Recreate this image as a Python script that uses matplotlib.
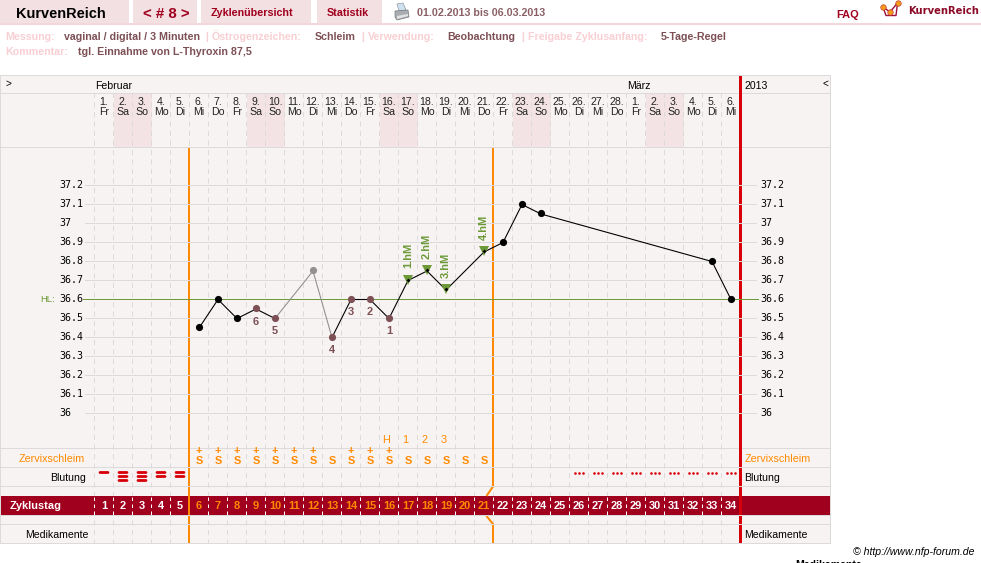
import numpy as np
import matplotlib
matplotlib.use("Agg")
import matplotlib.pyplot as plt
from matplotlib.patches import Rectangle, Polygon
from matplotlib.transforms import Affine2D

plt.rcParams["font.family"] = ["Liberation Sans", "DejaVu Sans"]
plt.rcParams["lines.scale_dashes"] = False
plt.rcParams["path.snap"] = False

# ---- cycle data ----
month_days = [1, 2, 3, 4, 5, 6, 7, 8, 9, 10, 11, 12, 13, 14, 15, 16, 17, 18, 19, 20, 21, 22, 23, 24,
              25, 26, 27, 28, 1, 2, 3, 4, 5, 6]
weekdays = ["Fr", "Sa", "So", "Mo", "Di", "Mi", "Do"] * 4 + ["Fr", "Sa", "So", "Mo", "Di", "Mi"]
temp_days = [6, 7, 8, 9, 10, 12, 13, 14, 15, 16, 17, 18, 19, 21, 22, 23, 24, 33, 34]
temps = [36.45, 36.6, 36.5, 36.55, 36.5, 36.75, 36.4, 36.6, 36.6, 36.5, 36.7, 36.75, 36.65,
         36.85, 36.9, 37.1, 37.05, 36.8, 36.6]
excluded_days = [12]
low_days = [9, 10, 13, 14, 15, 16]
low_labels = ["6", "5", "4", "3", "2", "1"]
high_days = [17, 18, 19, 21]
high_labels = ["1.hM", "2.hM", "3.hM", "4.hM"]
temp_ticks = [36.0, 36.1, 36.2, 36.3, 36.4, 36.5, 36.6, 36.7, 36.8, 36.9, 37.0, 37.1, 37.2]
temp_tick_labels = ["36", "36.1", "36.2", "36.3", "36.4", "36.5", "36.6", "36.7", "36.8",
                    "36.9", "37", "37.1", "37.2"]
cover_line = 36.6
mucus_plus_days = [6, 7, 8, 9, 10, 11, 12, 14, 15, 16]
mucus_plain_days = [13, 17, 18, 19, 20, 21]
peak_days = [16, 17, 18, 19]
peak_labels = ["H", "1", "2", "3"]
bleeding_days = [1, 2, 3, 4, 5]
bleeding_strength = [1, 3, 3, 2, 2]
spotting_days = [26, 27, 28, 29, 30, 31, 32, 33, 34]
infertile_end_day = 5
fertile_end_day = 21
n_days = 34

# ---- colours ----
PANEL = "#f8f3f3"
WEEKEND = "#f3e3e5"
RULE = "#dcdada"
TAB = "#f3e0e2"
DARK = "#a0001e"
BROWN = "#7d5055"
PALE = "#f8cfd2"
ORANGE = "#ff8a00"
RED = "#d80008"
GREEN = "#6c9a38"
GREY = "#929090"

W, H = 981, 563
fig = plt.figure(figsize=(W / 100, H / 100), dpi=100, facecolor="white")

# layout layer, addressed in pixels from the top-left corner
ax = fig.add_axes([0, 0, 1, 1], zorder=1)
ax.set_xlim(0, W)
ax.set_ylim(H, 0)
ax.axis("off")

def px(n):
    return n * 0.72

def day_left(d):
    return 94.5 + 19 * (d - 1)

def day_mid(d):
    return 94.5 + 19 * (d - 0.5)

def label(x, y, s, size=10.5, color="black", weight="normal", ha="left", **kw):
    # y is the visual centre of capital letters, so mixed lines share one baseline
    return ax.text(x, y + 0.36 * size, s, fontsize=px(size), color=color, fontweight=weight,
                   ha=ha, va="baseline", **kw)

# page header
for x0, x1 in [(0, 129), (133, 197), (201, 311), (317, 382)]:
    ax.add_patch(Rectangle((x0, 0), x1 - x0, 23, fc=TAB, ec="none", zorder=1))
ax.add_patch(Rectangle((0, 23), W, 2, fc="#f3d8db", ec="none", zorder=1))
label(16, 13, "KurvenReich", 14.5, "black", "bold")
label(143, 12.5, "< # 8 >", 15, DARK, "bold")
label(211, 12.5, "Zyklenübersicht", 10.7, DARK, "bold")
label(327, 12.5, "Statistik", 10.7, DARK, "bold")
label(417, 12.5, "01.02.2013 bis 06.03.2013", 10.6, "#8a6066", "bold")
label(836, 14.5, "FAQ", 11, DARK, "bold")
ax.text(908, 14, "KurvenReich", fontsize=px(10), fontweight="bold", color="#8c0a28",
        family="DejaVu Sans", ha="left", va="baseline")

# printer icon
ax.add_patch(Polygon([(397, 4), (403, 3), (406, 10), (399, 11)], fc="#cfe0ee", ec="#8f9aa5", lw=0.5, zorder=3))
ax.add_patch(Polygon([(395, 11), (408, 10), (409, 17), (397, 20), (395, 17)], fc="#a9adb2", ec="#777b80", lw=0.5, zorder=3))
ax.add_patch(Polygon([(397, 16), (408, 14), (408, 16), (397, 19)], fc="#e2e4e6", ec="none", zorder=4))

# logo: small curve with three dots
ax.plot([883, 886, 896, 897.5], [7, 15.5, 15.5, 3], color="#a0103c", lw=px(1.4), zorder=3)
ax.plot([883, 890, 897.5], [7, 12, 3], color="#a0103c", lw=px(1.4), zorder=3)
ax.plot([883, 890, 897.5], [7, 12, 3], ls="none", marker="o", ms=px(5.5), mfc="#f59a1c", mec="#c2402a", mew=0.5, zorder=4)

# settings lines
row1 = [(5, "Messung:", PALE), (64, "vaginal / digital / 3 Minuten", BROWN), (205, "|", PALE),
        (212, "Östrogenzeichen:", PALE), (315, "Schleim", BROWN), (361, "|", PALE),
        (368, "Verwendung:", PALE), (447, "Beobachtung", BROWN), (521, "|", PALE),
        (528, "Freigabe Zyklusanfang:", PALE), (661, "5-Tage-Regel", BROWN)]
for x, s, c in row1:
    label(x, 36, s, 10.6, c, "bold")
label(5, 51, "Kommentar:", 10.6, PALE, "bold")
label(78, 51, "tgl. Einnahme von L-Thyroxin 87,5", 10.6, BROWN, "bold")

# chart panel and weekend columns
ax.add_patch(Rectangle((0.5, 75.5), 830, 468, fc=PANEL, ec="none", zorder=1))
for d, wd in enumerate(weekdays, start=1):
    if wd in ("Sa", "So"):
        ax.add_patch(Rectangle((day_left(d) + 0.5, 94), 19, 53, fc=WEEKEND, ec="none", zorder=1.1))

# cycle-day dividers
for d in range(1, n_days + 1):
    x = day_left(d)
    ax.plot([x, x], [93, 543], color=RULE, lw=px(1), ls=(0, (px(5), px(4.5))), zorder=1.2)
    ax.plot([x, x], [497.5, 515], color="white", lw=px(1), ls=(0, (px(3.5), px(3.5))), zorder=2.1)

# dark cycle-day band
ax.add_patch(Rectangle((0.5, 496), 830, 19, fc=DARK, ec="none", zorder=2))
label(10, 505.5, "Zyklustag", 11, "white", "bold", zorder=5)
for d in range(1, n_days + 1):
    inside = infertile_end_day < d <= fertile_end_day
    label(day_mid(d), 505.5, str(d), 11, ORANGE if inside else "white", "bold", ha="center", zorder=5)

# rows the boundary lines stay on top of
for y in [93.5, 147.5, 448.5]:
    ax.plot([0.5, 830.5], [y, y], color=RULE, lw=px(1), zorder=2.5)

# phase boundaries
b1 = day_left(infertile_end_day + 1) - 0.5
b2 = day_left(fertile_end_day + 1) - 0.5
ax.plot([b1, b1], [148, 543], color=ORANGE, lw=px(2), solid_capstyle="butt", zorder=3)
ax.plot([b2, b2, b2 - 6.5], [148, 486.5, 496], color=ORANGE, lw=px(2), solid_capstyle="butt", zorder=3)
ax.plot([b2 - 6.5, b2, b2], [516, 524, 543], color=ORANGE, lw=px(2), solid_capstyle="butt", zorder=3)
ax.plot([740.5, 740.5], [75, 543], color=RED, lw=px(3), solid_capstyle="butt", zorder=3)

# panel rows drawn across the boundaries
for y in [467.5, 486.5, 515.5, 524.5]:
    ax.plot([0.5, 830.5], [y, y], color=RULE, lw=px(1), zorder=3.5)
ax.plot([0.5, 0.5, 830.5, 830.5, 0.5], [75.5, 543.5, 543.5, 75.5, 75.5], color=RULE, lw=px(1), zorder=3.5)

# calendar header
label(5, 83.5, ">", 10, "black")
label(95.5, 85, "Februar", 10.5, "black")
label(627.5, 85, "März", 10.5, "black")
label(744.5, 85, "2013", 10.5, "black")
label(822.5, 83, "<", 10, "black")
for d, (md, wd) in enumerate(zip(month_days, weekdays), start=1):
    label(day_mid(d), 101, f"{md}.", 10.5, "#222222", ha="center")
    label(day_mid(d), 111, wd, 10.5, "#222222", ha="center")

# row captions
label(85, 458, "Zervixschleim", 10.8, ORANGE, ha="right")
label(85.5, 477, "Blutung", 10.5, "black", ha="right")
label(89, 534.5, "Medikamente", 10.5, "black", ha="right")
label(744.5, 458, "Zervixschleim", 10.8, ORANGE)
label(744.5, 477, "Blutung", 10.5, "black")
label(744.5, 534.5, "Medikamente", 10.5, "black")

# observation rows
for d, s in zip(peak_days, peak_labels):
    label(day_mid(d) - 2.5, 439, s, 11, ORANGE, ha="center")
for d in mucus_plus_days:
    label(day_mid(d), 460, "+\nS", 11, ORANGE, "bold", ha="center", zorder=5, linespacing=1.0)
for d in mucus_plain_days:
    label(day_mid(d), 460, "S", 11, ORANGE, "bold", ha="center", zorder=5)
for d, n in zip(bleeding_days, bleeding_strength):
    for i in range(n):
        yb = 472.5 + 4 * i
        ax.plot([day_mid(d) - 4, day_mid(d) + 4], [yb, yb], color=RED, lw=px(2.8),
                solid_capstyle="round", zorder=4)
for d in spotting_days:
    ax.plot([day_mid(d) - 4, day_mid(d), day_mid(d) + 4], [472.5] * 3, ls="none", marker="o",
            ms=px(2.6), color=RED, mew=0, zorder=4)

# footer
ax.text(853, 555, "© http://www.nfp-forum.de", fontsize=px(10.5), style="italic", color="black", va="baseline")
ax.text(795, 568, "Medikamente", fontsize=px(10.5), fontweight="bold", color="black", va="baseline", clip_on=True)

# temperature layer: cycle day on x, degrees on y
ax_t = fig.add_axes([0, 0, 1, 1], zorder=2)
ax_t.patch.set_alpha(0)
ax_t.axis("off")
ax_t.set_xlim(0.5 - 94.5 / 19, 0.5 + (W - 94.5) / 19)
ax_t.set_ylim(37.2 - (H - 185.5) / 190, 37.2 + 185.5 / 190)

grid_x0 = 0.5 + (85 - 94.5) / 19
grid_x1 = 0.5 + (757 - 94.5) / 19
ax_t.hlines(temp_ticks, grid_x0, grid_x1, color=RULE, lw=px(1), zorder=1)
ax_t.hlines(cover_line, 0.5 + (83 - 94.5) / 19, 0.5 + (759 - 94.5) / 19, color=GREEN, lw=px(1), zorder=1.5)
for t, s in zip(temp_ticks, temp_tick_labels):
    for x in (0.5 + (60 - 94.5) / 19, 0.5 + (761 - 94.5) / 19):
        ax_t.annotate(s, (x, t), xytext=(-0.5, 0.8), textcoords="offset pixels", family="DejaVu Sans Mono",
                      fontsize=px(10), color="black", ha="left", va="center")
ax_t.text(0.5 + (40 - 94.5) / 19, cover_line, "HL:", fontsize=px(9.5), color=GREEN, ha="left", va="center")

# curve segments, grey where an excluded reading is involved
for (d0, t0, d1, t1) in zip(temp_days[:-1], temps[:-1], temp_days[1:], temps[1:]):
    faded = d0 in excluded_days or d1 in excluded_days
    ax_t.plot([d0, d1], [t0, t1], color=GREY if faded else "black", lw=px(1.1), zorder=3)

# the renderer rounds marker centres to whole pixels; nudge so they sit on the line
marker_tf = ax_t.transData + Affine2D().translate(0, 0.6)
for d, t in zip(temp_days, temps):
    if d in high_days:
        ax_t.plot(d, t, marker="v", ms=px(10.5), color=GREEN, mew=0, zorder=4, transform=marker_tf)
        ax_t.plot(d, t, marker="D", ms=px(2.8), color="black", mew=0, zorder=5, transform=marker_tf)
    else:
        c = GREY if d in excluded_days else BROWN if d in low_days else "black"
        ax_t.plot(d, t, marker="o", ms=px(7.2), color=c, mew=0, zorder=4, transform=marker_tf)

# low-temperature counters below, high-temperature tags above
lookup = dict(zip(temp_days, temps))
for d, s in zip(low_days, low_labels):
    ax_t.annotate(s, (d, lookup[d]), xytext=(0, -12.5), textcoords="offset pixels", ha="center", va="center",
                  fontsize=px(11), fontweight="bold", color=BROWN, zorder=5)
for d, s in zip(high_days, high_labels):
    ax_t.annotate(s, (d, lookup[d]), xytext=(0, 12.5), textcoords="offset pixels", ha="center", va="bottom",
                  rotation=90, fontsize=px(11), fontweight="bold", color=GREEN, zorder=5)

fig.savefig("out.png", dpi=100, facecolor="white")
